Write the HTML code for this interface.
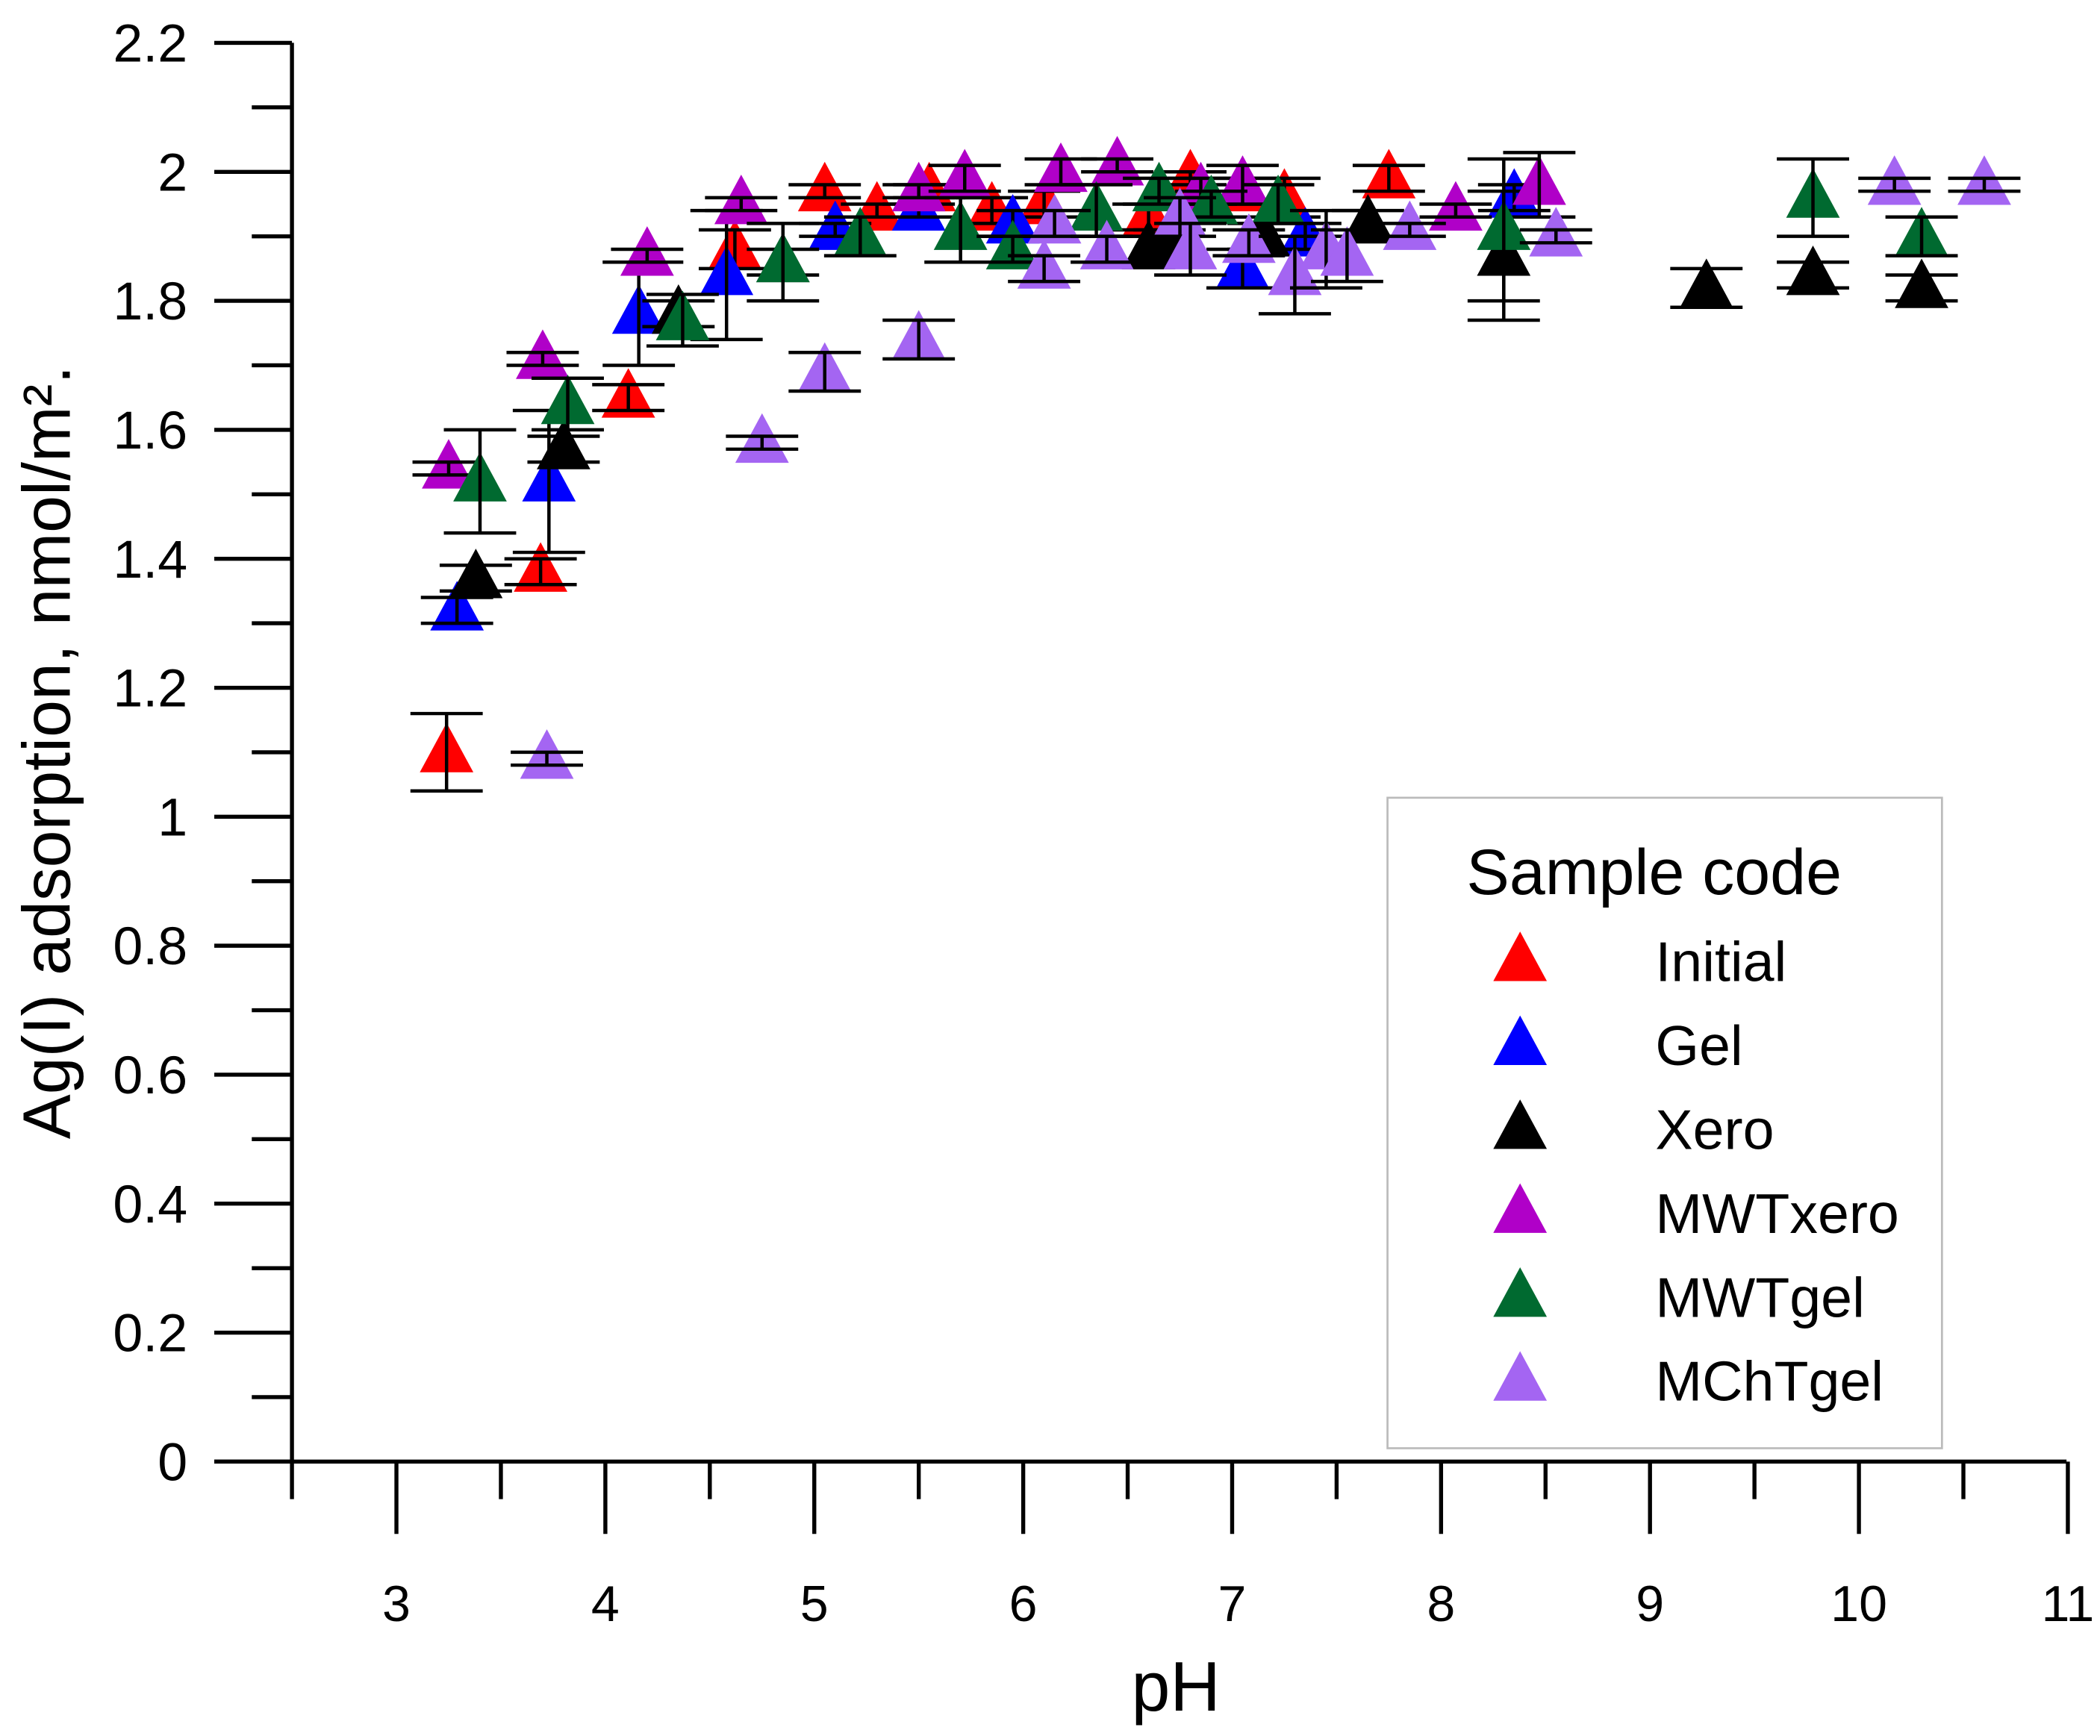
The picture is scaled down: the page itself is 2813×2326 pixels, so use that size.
<!DOCTYPE html>
<html><head><meta charset="utf-8"><style>
html,body{margin:0;padding:0;background:#fff;}
svg{display:block;font-family:"Liberation Sans",Arial,sans-serif;}
</style></head><body>
<svg id="chart" width="2813" height="2326" viewBox="0 0 1568 1297" preserveAspectRatio="none" xmlns="http://www.w3.org/2000/svg">
<rect width="1568" height="1297" fill="#fff"/>
<g id="axes"></g>
<g id="marks"></g>
<text x="878" y="1278" font-size="52" text-anchor="middle">pH</text>
<text transform="translate(52,562) rotate(-90)" font-size="50" text-anchor="middle">Ag(I) adsorption, nmol/m².</text>
<g>
<rect x="1036" y="596" width="414" height="486" fill="#fff" stroke="#bbb" stroke-width="1.5"/>
<text x="1095" y="668" font-size="48">Sample code</text>
<g id="legend-items"></g>
</g>
</svg>
<script>
const seriesNames = ["Initial","Gel","Xero","MWTxero","MWTgel","MChTgel"];
const seriesColors = ["#ff0000","#0000ff","#000000","#b000c8","#006a30","#a465f2"];
const xTicks = [3,4,5,6,7,8,9,10,11];
const yTicks = [0,0.2,0.4,0.6,0.8,1,1.2,1.4,1.6,1.8,2,2.2];
const yTickLabels = ["0","0.2","0.4","0.6","0.8","1","1.2","1.4","1.6","1.8","2","2.2"];
const initialX = [3.24,3.69,4.11,4.62,5.05,5.3,5.55,5.85,6.1,6.6,6.8,7.05,7.25,7.75];
const initialY = [1.10,1.38,1.65,1.88,1.97,1.94,1.97,1.94,1.95,1.93,1.99,1.97,1.96,1.99];
const initialE = [0.06,0.02,0.02,0.03,0.01,0.01,0.01,0.02,0.02,0.02,0.01,0.02,0.03,0.02];
const gelX = [3.29,3.73,4.16,4.58,5.1,5.5,5.95,7.05,7.35,8.35];
const gelY = [1.32,1.52,1.78,1.84,1.91,1.94,1.92,1.85,1.90,1.96];
const gelE = [0.02,0.11,0.08,0.10,0.01,0.01,0.02,0.03,0.02,0.02];
const xeroX = [3.38,3.8,4.35,4.85,6.6,6.7,7.15,7.65,8.3,9.27,9.78,10.3];
const xeroY = [1.37,1.57,1.78,1.86,1.88,1.89,1.90,1.92,1.87,1.82,1.84,1.82];
const xeroE = [0.02,0.02,0.02,0.02,0.02,0.02,0.02,0.02,0.10,0.03,0.02,0.02];
const mwtxeroX = [3.25,3.7,4.2,4.65,5.5,5.72,6.18,6.45,6.85,7.05,8.07,8.47];
const mwtxeroY = [1.54,1.71,1.87,1.95,1.97,1.99,2.00,2.01,1.97,1.98,1.94,1.98];
const mwtxeroE = [0.01,0.01,0.01,0.01,0.01,0.02,0.02,0.01,0.02,0.03,0.01,0.05];
const mwtgelX = [3.4,3.82,4.37,4.85,5.22,5.7,5.95,6.35,6.65,6.9,7.22,8.3,9.78,10.3];
const mwtgelY = [1.52,1.64,1.77,1.86,1.90,1.91,1.88,1.94,1.97,1.95,1.95,1.91,1.96,1.90];
const mwtgelE = [0.08,0.04,0.04,0.06,0.03,0.05,0.02,0.04,0.02,0.02,0.03,0.11,0.06,0.03];
const mchtgelX = [3.72,4.75,5.05,5.5,6.1,6.15,6.4,6.75,6.8,7.08,7.3,7.45,7.55,7.85,8.55,10.17,10.6];
const mchtgelY = [1.09,1.58,1.69,1.74,1.85,1.92,1.88,1.93,1.88,1.89,1.84,1.88,1.87,1.91,1.90,1.98,1.98];
const mchtgelE = [0.01,0.01,0.03,0.03,0.02,0.02,0.02,0.03,0.04,0.02,0.06,0.06,0.04,0.01,0.01,0.01,0.01];

const NS="http://www.w3.org/2000/svg";
function xs(v){return 296+(v-3)*156;}
function ys(v){return 1092-v*481.8;}
function mk(tag,attrs,parent){const e=document.createElementNS(NS,tag);for(const k in attrs)e.setAttribute(k,attrs[k]);parent.appendChild(e);return e;}
const axes=document.getElementById('axes');
let el=mk('line',{x1:160,y1:1092,x2:1543,y2:1092,stroke:'#000','stroke-width':3},axes);


el=mk('line',{x1:218,y1:32,x2:218,y2:1092,stroke:'#000','stroke-width':3},axes);


yTicks.forEach((t,i)=>{
  const y=ys(t);
  let l=mk('line',{x1:160,y1:y,x2:218,y2:y,stroke:'#000','stroke-width':3},axes);
  
  
  if(i<yTicks.length-1){
    let m=mk('line',{x1:188,y1:ys(t+0.1),x2:218,y2:ys(t+0.1),stroke:'#000','stroke-width':3},axes);
    
    
  }
  let tx=mk('text',{x:140,y:y+14,'font-size':40,'text-anchor':'end'},axes);
  tx.textContent=yTickLabels[i];
  
  
});
xTicks.forEach((t,i)=>{
  const x=xs(t);
  let l=mk('line',{x1:x,y1:1092,x2:x,y2:1146,stroke:'#000','stroke-width':3},axes);
  
  
  let m=mk('line',{x1:xs(t-0.5),y1:1092,x2:xs(t-0.5),y2:1120,stroke:'#000','stroke-width':3},axes);
  
  
  let tx=mk('text',{x:x,y:1211,'font-size':38,'text-anchor':'middle'},axes);
  tx.textContent=String(t);
  
  
});
const allX=[initialX,gelX,xeroX,mwtxeroX,mwtgelX,mchtgelX];
const allY=[initialY,gelY,xeroY,mwtxeroY,mwtgelY,mchtgelY];
const allE=[initialE,gelE,xeroE,mwtxeroE,mwtgelE,mchtgelE];
const marks=document.getElementById('marks');
function tri(cx,cy,color,parent){
  return mk('polygon',{points:`${cx},${cy-22} ${cx-20},${cy+15} ${cx+20},${cy+15}`,fill:color},parent);
}
allX.forEach((xsArr,s)=>{
  const g=mk('g',{},marks);
  
  
  xsArr.forEach((xv,i)=>{
    const cx=xs(xv), cy=ys(allY[s][i]), yt=ys(allY[s][i]+allE[s][i]), yb=ys(allY[s][i]-allE[s][i]);
    const p=tri(cx,cy,seriesColors[s],g);
    
    
    const eb=mk('path',{d:`M${cx},${yt}V${yb}M${cx-27},${yt}H${cx+27}M${cx-27},${yb}H${cx+27}`,stroke:'#000','stroke-width':2.5,fill:'none'},g);
    
    
  });
});
const li=document.getElementById('legend-items');
seriesNames.forEach((n,i)=>{
  const y=718+i*62.7;
  const p=tri(1135,y,seriesColors[i],li);
  
  
  const t=mk('text',{x:1236,y:y+15,'font-size':42},li);
  t.textContent=n;
  
  
});
</script>
</body></html>
